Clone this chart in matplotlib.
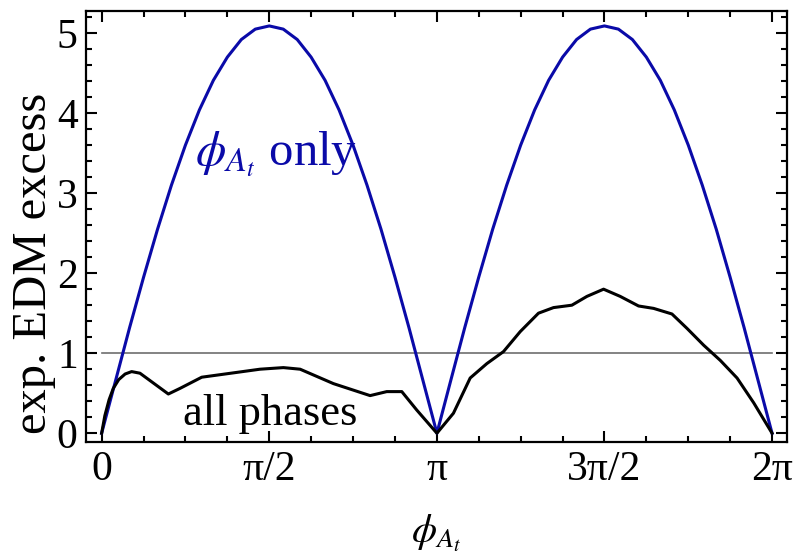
import numpy as np
import matplotlib

matplotlib.use("Agg")
import matplotlib.pyplot as plt
from matplotlib.ticker import FixedLocator, MultipleLocator

plt.rcParams["font.family"] = ["Liberation Serif", "DejaVu Serif"]
plt.rcParams["mathtext.fontset"] = "stix"

# phi_{A_t}-only curve (step of about pi/24)
blue_x = [0.0, 0.131, 0.262, 0.393, 0.524, 0.654, 0.785, 0.916, 1.047, 1.178, 1.309,
          1.440, 1.571, 1.702, 1.833, 1.963, 2.094, 2.225, 2.356, 2.487, 2.618,
          2.749, 2.880, 3.011, 3.142,
          3.272, 3.403, 3.534, 3.665, 3.796, 3.927, 4.058, 4.189, 4.320, 4.451,
          4.581, 4.712, 4.843, 4.974, 5.105, 5.236, 5.367, 5.498, 5.629, 5.760,
          5.890, 6.021, 6.152, 6.283]
blue_y = [0.0, 0.66, 1.32, 1.95, 2.55, 3.10, 3.60, 4.04, 4.41, 4.70, 4.92,
          5.05, 5.09, 5.05, 4.92, 4.70, 4.41, 4.04, 3.60, 3.10, 2.55,
          1.95, 1.32, 0.66, 0.0,
          0.66, 1.32, 1.95, 2.55, 3.10, 3.60, 4.04, 4.41, 4.70, 4.92,
          5.05, 5.09, 5.05, 4.92, 4.70, 4.41, 4.04, 3.60, 3.10, 2.55,
          1.95, 1.32, 0.66, 0.0]

# all-phases curve
black_x = [0.0, 0.03, 0.07, 0.109, 0.16, 0.22, 0.281, 0.359, 0.625, 0.734, 0.938, 1.266, 1.484,
           1.703, 1.86, 2.172, 2.516, 2.672, 2.813, 2.953, 3.142,
           3.297, 3.454, 3.610, 3.766, 3.923, 4.094, 4.235, 4.407, 4.548, 4.704,
           4.860, 5.032, 5.173, 5.345, 5.486, 5.642, 5.798, 5.955, 6.111, 6.283]
black_y = [0.0, 0.22, 0.42, 0.56, 0.67, 0.74, 0.77, 0.75, 0.49, 0.56, 0.70, 0.76, 0.80,
           0.82, 0.80, 0.62, 0.47, 0.52, 0.52, 0.29, 0.0,
           0.25, 0.69, 0.87, 1.02, 1.27, 1.50, 1.57, 1.60, 1.71, 1.80,
           1.71, 1.59, 1.56, 1.49, 1.31, 1.10, 0.91, 0.69, 0.38, 0.0]

x_ticks = [0, np.pi / 2, np.pi, 3 * np.pi / 2, 2 * np.pi]
x_labels = ["0", "π/2", "π", "3π/2", "2π"]
y_ticks = [0, 1, 2, 3, 4, 5]

BLUE = "#0a0aa8"

fig = plt.figure(figsize=(7.96, 5.56), dpi=100)
ax = fig.add_axes([0.108, 0.205, 0.8807, 0.775])

ax.plot([0, 2 * np.pi], [1, 1], color="#6e6e6e", linewidth=1.2)
ax.plot(blue_x, blue_y, color=BLUE, linewidth=2.2, solid_joinstyle="round")
ax.plot(black_x, black_y, color="black", linewidth=2.2, solid_joinstyle="round")

ax.set_xlim(-0.147, 2 * np.pi + 0.14)
ax.set_ylim(-0.11, 5.275)

ax.xaxis.set_major_locator(FixedLocator(x_ticks))
ax.set_xticklabels(x_labels)
ax.xaxis.set_minor_locator(MultipleLocator(np.pi / 8))
ax.yaxis.set_major_locator(FixedLocator(y_ticks))
ax.yaxis.set_minor_locator(MultipleLocator(0.2))

ax.tick_params(which="both", direction="in", top=True, right=True, labelsize=30, width=1.5)
ax.tick_params(which="major", length=8, pad=6)
ax.tick_params(which="minor", length=4)
for spine in ax.spines.values():
    spine.set_linewidth(1.6)

ax.set_xlabel(r"$\phi_{A_t}$", fontsize=29)
ax.xaxis.set_label_coords(0.499, -0.165)
ax.set_ylabel("exp. EDM excess", fontsize=35)
ax.yaxis.set_label_coords(-0.043, 0.415)

ax.text(1.635, 3.35, r"$\phi_{A_t}$ only", color=BLUE, fontsize=35, ha="center", va="baseline")
ax.text(1.575, 0.10, "all phases", color="black", fontsize=32, ha="center", va="baseline")

fig.savefig("out.png", dpi=100)
